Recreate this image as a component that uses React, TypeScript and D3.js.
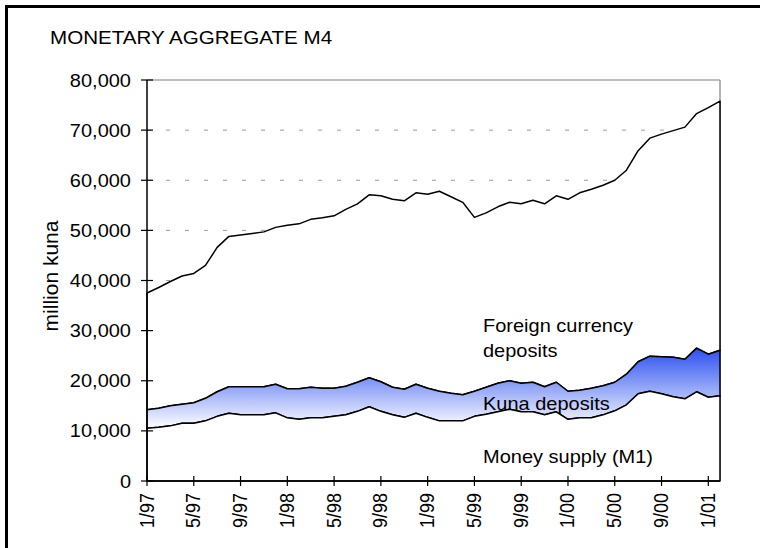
import React from "react";
import * as d3 from "d3";

// Monthly data, 1/97 .. 2/01 (million kuna), cumulative levels
const monthLabels: string[] = [];
for (let y = 97; y <= 101; y++) {
  for (let m = 1; m <= 12; m++) {
    if (monthLabels.length < 50) monthLabels.push(`${m}/${String(y % 100).padStart(2, "0")}`);
  }
}

// Money supply (M1)
const m1 = [
  10500, 10700, 11000, 11500, 11500, 12000, 12900, 13500, 13200, 13200,
  13200, 13600, 12600, 12300, 12600, 12600, 12900, 13200, 13900, 14800,
  13900, 13200, 12700, 13500, 12700, 12000, 12000, 12000, 12900, 13300,
  13800, 14300, 13800, 13800, 13200, 13800, 12300, 12600, 12600, 13200,
  14000, 15200, 17400, 17900, 17400, 16800, 16400, 17800, 16700, 17000,
];
// M1 + kuna deposits
const m1PlusKuna = [
  14200, 14500, 15000, 15300, 15600, 16500, 17800, 18800, 18800, 18800,
  18800, 19300, 18400, 18400, 18700, 18500, 18500, 18900, 19700, 20600,
  19800, 18700, 18300, 19300, 18500, 17900, 17500, 17200, 17900, 18700,
  19500, 20000, 19500, 19700, 18800, 19700, 17900, 18100, 18500, 19000,
  19700, 21300, 23800, 24900, 24800, 24700, 24300, 26500, 25300, 26100,
];
// M4 total (incl. foreign currency deposits)
const m4 = [
  37500, 38600, 39800, 40900, 41400, 43000, 46600, 48800, 49100, 49400,
  49700, 50600, 51000, 51300, 52200, 52500, 52900, 54200, 55300, 57100,
  56900, 56200, 55900, 57500, 57200, 57800, 56700, 55600, 52600, 53500,
  54700, 55600, 55300, 56000, 55300, 56900, 56200, 57500, 58200, 59000,
  60000, 62000, 65900, 68400, 69200, 69900, 70600, 73300, 74500, 75800,
];

const yTicks = [0, 10000, 20000, 30000, 40000, 50000, 60000, 70000, 80000];
const xTickLabels = ["1/97", "5/97", "9/97", "1/98", "5/98", "9/98", "1/99", "5/99", "9/99", "1/00", "5/00", "9/00", "1/01"];

const FONT = "'Liberation Sans', Arial, sans-serif";

export default function App() {
  const left = 147, right = 720, top = 80, bottom = 481;
  const x = d3.scaleLinear().domain([0, monthLabels.length - 1]).range([left, right]);
  const y = d3.scaleLinear().domain([0, 80000]).range([bottom, top]);
  const idx = d3.range(monthLabels.length);

  const areaM4 = d3.area<number>().x((i) => x(i)).y0((i) => y(m1PlusKuna[i])).y1((i) => y(m4[i]));
  const areaKuna = d3.area<number>().x((i) => x(i)).y0((i) => y(m1[i])).y1((i) => y(m1PlusKuna[i]));
  const areaM1 = d3.area<number>().x((i) => x(i)).y0(() => y(0)).y1((i) => y(m1[i]));

  const ts = "scale(1,0.9)";
  const fmt = d3.format(",");

  return (
    <svg width={760} height={548} style={{ position: "fixed", left: 0, top: 0, background: "#fff" }} fontFamily={FONT}>
      <defs>
        <linearGradient id="kunaGrad" x1="0" y1="0" x2="0" y2="1">
          <stop offset="0%" stopColor="#2b4ff0" />
          <stop offset="100%" stopColor="#ffffff" />
        </linearGradient>
      </defs>
      <rect x={0} y={0} width={760} height={548} fill="#fff" />
      <rect x={6.5} y={6.5} width={800} height={600} fill="none" stroke="#000" strokeWidth={3} />

      <text transform={`translate(50,44) ${ts}`} fontSize={20.6} fill="#000">MONETARY AGGREGATE M4</text>

      {/* gridlines */}
      {yTicks.filter((t) => t > 0 && t < 80000).map((t) => (
        <line key={t} x1={left} x2={right} y1={y(t)} y2={y(t)} stroke="#999" strokeWidth={1} strokeDasharray="4 15" />
      ))}
      <line x1={left} x2={right} y1={top} y2={top} stroke="#808080" strokeWidth={1.2} />
      <line x1={right} x2={right} y1={top} y2={bottom} stroke="#808080" strokeWidth={1.2} />

      {/* areas */}
      <path d={areaM4(idx) || ""} fill="#fff" stroke="#000" strokeWidth={1.5} strokeLinejoin="round" />
      <path d={areaKuna(idx) || ""} fill="url(#kunaGrad)" stroke="#000" strokeWidth={1.5} strokeLinejoin="round" />
      <path d={areaM1(idx) || ""} fill="#fff" stroke="#000" strokeWidth={1.5} strokeLinejoin="round" />

      {/* axes */}
      <line x1={left} x2={left} y1={top} y2={bottom} stroke="#000" strokeWidth={1.5} />
      <line x1={left} x2={right} y1={bottom} y2={bottom} stroke="#000" strokeWidth={1.5} />
      {yTicks.map((t) => (
        <g key={t}>
          <line x1={left - 6} x2={left + 6} y1={y(t)} y2={y(t)} stroke="#000" strokeWidth={1.2} />
          <text transform={`translate(131,${y(t) + 6.5}) ${ts}`} textAnchor="end" fontSize={20} fill="#000">{fmt(t)}</text>
        </g>
      ))}
      {xTickLabels.map((lab, k) => {
        const xi = x(k * 4);
        return (
          <g key={lab}>
            <line x1={xi} x2={xi} y1={bottom - 5} y2={bottom + 5} stroke="#000" strokeWidth={1.2} />
            <text transform={`translate(${xi + 6.5},${bottom + 12}) ${ts} rotate(-90)`} textAnchor="end" fontSize={20} fill="#000">{lab}</text>
          </g>
        );
      })}

      <text transform={`translate(58,276) rotate(-90)`} textAnchor="middle" fontSize={21} fill="#000">million kuna</text>

      <text transform={`translate(483,332) ${ts}`} fontSize={20} fill="#000">Foreign currency</text>
      <text transform={`translate(483,357) ${ts}`} fontSize={20} fill="#000">deposits</text>
      <text transform={`translate(483,410) ${ts}`} fontSize={20} fill="#000">Kuna deposits</text>
      <text transform={`translate(483,463) ${ts}`} fontSize={20} fill="#000">Money supply (M1)</text>
    </svg>
  );
}
